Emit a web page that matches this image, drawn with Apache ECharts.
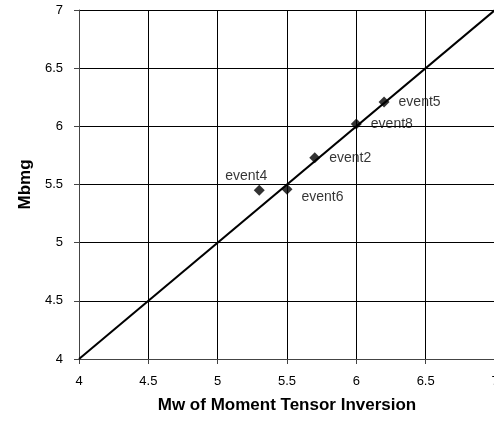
<!DOCTYPE html>
<html>
<head>
<meta charset="utf-8">
<script src="https://cdn.jsdelivr.net/npm/echarts@6/dist/echarts.min.js"></script>
<style>
  html, body { margin: 0; padding: 0; background: #fff; }
  #chart { width: 494px; height: 423px; }
</style>
</head>
<body>
<div id="chart"></div>
<script>
// event observations
const eventNames = ["event4", "event6", "event2", "event8", "event5"];
const mwValues = [5.3, 5.5, 5.7, 6.0, 6.2];
const mbmgValues = [5.45, 5.46, 5.73, 6.02, 6.21];
// 1:1 reference line
const refLineX = [4, 7];
const refLineY = [4, 7];

// where each label sits relative to its marker
const labelPlacement = {
  event4: { position: "top", offset: [-13, 7] },
  event6: { position: "right", offset: [0, 8] },
  event2: { position: "right", offset: [0, 0] },
  event8: { position: "right", offset: [0, 0] },
  event5: { position: "right", offset: [0, 0] }
};

const font = "Liberation Sans, Arial, sans-serif";

const scatterData = eventNames.map((name, i) => ({
  name: name,
  value: [mwValues[i], mbmgValues[i]],
  label: labelPlacement[name]
}));

const chart = echarts.init(document.getElementById("chart"));
chart.setOption({
  animation: false,
  grid: { left: 79, top: 10, width: 416, height: 349, containLabel: false, outerBoundsMode: "none" },
  xAxis: {
    type: "value", min: 4, max: 7, interval: 0.5,
    name: "Mw of Moment Tensor Inversion",
    nameLocation: "middle", nameGap: 38,
    nameTextStyle: { fontFamily: font, fontWeight: "bold", fontSize: 17, color: "#000" },
    axisLine: { show: true, lineStyle: { color: "#444", width: 1 } },
    axisTick: { show: true, length: 5, lineStyle: { color: "#444" } },
    axisLabel: { fontFamily: font, fontSize: 13, color: "#000", margin: 16 },
    splitLine: { show: true, lineStyle: { color: "#000", width: 1 } }
  },
  yAxis: {
    type: "value", min: 4, max: 7, interval: 0.5,
    name: "Mbmg",
    nameLocation: "middle", nameGap: 45,
    nameTextStyle: { fontFamily: font, fontWeight: "bold", fontSize: 17, color: "#000" },
    axisLine: { show: true, lineStyle: { color: "#444", width: 1 } },
    axisTick: { show: true, length: 5, lineStyle: { color: "#444" } },
    axisLabel: { fontFamily: font, fontSize: 13, color: "#000", margin: 16 },
    splitLine: { show: true, lineStyle: { color: "#000", width: 1 } }
  },
  series: [
    {
      type: "line",
      data: refLineX.map((x, i) => [x, refLineY[i]]),
      showSymbol: false,
      lineStyle: { color: "#000", width: 2 },
      z: 2
    },
    {
      type: "scatter",
      data: scatterData,
      symbol: "diamond",
      symbolSize: 11,
      itemStyle: { color: "#000" },
      label: {
        show: true,
        formatter: "{b}",
        distance: 9,
        fontFamily: font,
        fontSize: 14,
        color: "#000"
      },
      z: 3
    }
  ]
});
</script>
</body>
</html>
